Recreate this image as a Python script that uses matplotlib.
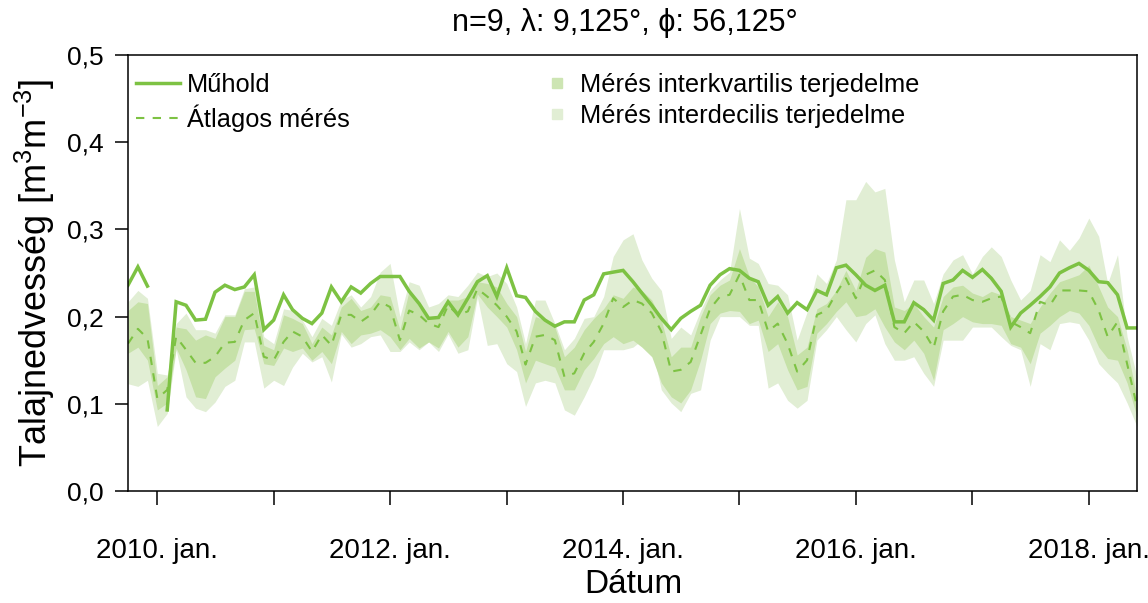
import numpy as np
import pandas as pd
import matplotlib
matplotlib.use('Agg')
import matplotlib.pyplot as plt
from matplotlib.lines import Line2D

plt.rcParams['font.family'] = ['Liberation Sans', 'DejaVu Sans']
plt.rcParams['mathtext.fontset'] = 'custom'
plt.rcParams['mathtext.rm'] = 'Liberation Sans'
plt.rcParams['mathtext.it'] = 'Liberation Sans'

# monthly values, 2009 Oct .. 2018 Jun
dates = pd.date_range('2009-10-01', '2018-06-01', freq='MS')
nan = np.nan

satellite = [
    0.236, 0.257, 0.235, nan, 0.093, 0.217, 0.213, 0.196, 0.197, 0.228,
    0.236, 0.231, 0.234, 0.248, 0.185, 0.196, 0.225, 0.208, 0.198, 0.192,
    0.204, 0.234, 0.217, 0.234, 0.227, 0.238, 0.246, 0.246, 0.246, 0.229,
    0.215, 0.198, 0.199, 0.217, 0.202, 0.221, 0.240, 0.247, 0.223, 0.256,
    0.224, 0.222, 0.206, 0.196, 0.189, 0.194, 0.194, 0.219, 0.225, 0.249,
    0.251, 0.253, 0.240, 0.227, 0.213, 0.198, 0.185, 0.198, 0.206, 0.213,
    0.236, 0.248, 0.255, 0.253, 0.244, 0.240, 0.213, 0.223, 0.204, 0.216,
    0.208, 0.230, 0.225, 0.256, 0.259, 0.248, 0.236, 0.230, 0.236, 0.194,
    0.194, 0.216, 0.208, 0.196, 0.238, 0.242, 0.253, 0.245, 0.254, 0.244,
    0.229, 0.188, 0.204, 0.213, 0.223, 0.234, 0.250, 0.256, 0.261, 0.253,
    0.240, 0.239, 0.225, 0.187, 0.187]

mean_meas = [
    0.169, 0.186, 0.175, 0.106, 0.116, 0.177, 0.162, 0.147, 0.147, 0.154,
    0.170, 0.171, 0.196, 0.204, 0.154, 0.150, 0.171, 0.183, 0.177, 0.160,
    0.179, 0.167, 0.202, 0.202, 0.194, 0.202, 0.217, 0.211, 0.173, 0.207,
    0.202, 0.192, 0.188, 0.213, 0.202, 0.206, 0.232, 0.223, 0.213, 0.200,
    0.183, 0.145, 0.177, 0.179, 0.173, 0.131, 0.135, 0.158, 0.171, 0.192,
    0.221, 0.211, 0.219, 0.215, 0.204, 0.183, 0.137, 0.139, 0.148, 0.179,
    0.209, 0.223, 0.225, 0.248, 0.219, 0.219, 0.183, 0.192, 0.169, 0.137,
    0.150, 0.202, 0.207, 0.227, 0.244, 0.221, 0.248, 0.253, 0.242, 0.188,
    0.181, 0.194, 0.183, 0.164, 0.206, 0.223, 0.225, 0.219, 0.217, 0.221,
    0.223, 0.194, 0.188, 0.181, 0.217, 0.213, 0.230, 0.230, 0.230, 0.229,
    0.207, 0.177, 0.194, 0.146, 0.097]

q75 = [
    0.207, 0.217, 0.215, 0.121, 0.131, 0.188, 0.186, 0.173, 0.179, 0.175,
    0.200, 0.200, 0.229, 0.229, 0.167, 0.162, 0.202, 0.198, 0.192, 0.169,
    0.188, 0.179, 0.211, 0.221, 0.207, 0.211, 0.225, 0.223, 0.185, 0.230,
    0.211, 0.200, 0.200, 0.219, 0.219, 0.223, 0.240, 0.238, 0.234, 0.215,
    0.200, 0.160, 0.200, 0.196, 0.188, 0.154, 0.165, 0.185, 0.198, 0.209,
    0.225, 0.221, 0.234, 0.230, 0.219, 0.196, 0.154, 0.165, 0.165, 0.200,
    0.225, 0.236, 0.242, 0.278, 0.246, 0.234, 0.200, 0.217, 0.200, 0.156,
    0.165, 0.209, 0.215, 0.230, 0.253, 0.230, 0.268, 0.278, 0.274, 0.211,
    0.207, 0.215, 0.200, 0.188, 0.223, 0.234, 0.236, 0.227, 0.223, 0.229,
    0.225, 0.200, 0.196, 0.192, 0.211, 0.227, 0.240, 0.244, 0.248, 0.259,
    0.234, 0.211, 0.200, 0.162, 0.108]

q25 = [
    0.158, 0.165, 0.150, 0.093, 0.101, 0.164, 0.139, 0.108, 0.106, 0.131,
    0.141, 0.150, 0.185, 0.186, 0.146, 0.144, 0.164, 0.160, 0.164, 0.150,
    0.160, 0.146, 0.183, 0.169, 0.179, 0.181, 0.185, 0.177, 0.162, 0.175,
    0.164, 0.171, 0.164, 0.183, 0.165, 0.177, 0.226, 0.211, 0.200, 0.188,
    0.162, 0.124, 0.150, 0.146, 0.142, 0.116, 0.116, 0.139, 0.152, 0.169,
    0.177, 0.169, 0.173, 0.165, 0.154, 0.124, 0.108, 0.101, 0.116, 0.150,
    0.192, 0.204, 0.207, 0.206, 0.192, 0.196, 0.160, 0.169, 0.139, 0.116,
    0.120, 0.181, 0.192, 0.206, 0.217, 0.200, 0.202, 0.209, 0.188, 0.171,
    0.162, 0.173, 0.158, 0.127, 0.185, 0.192, 0.200, 0.194, 0.192, 0.192,
    0.190, 0.169, 0.165, 0.146, 0.181, 0.190, 0.200, 0.207, 0.204, 0.190,
    0.165, 0.152, 0.150, 0.124, 0.085]

q90 = [
    0.217, 0.230, 0.221, 0.135, 0.133, 0.192, 0.204, 0.185, 0.185, 0.181,
    0.202, 0.202, 0.232, 0.234, 0.177, 0.169, 0.209, 0.207, 0.196, 0.177,
    0.198, 0.190, 0.219, 0.225, 0.211, 0.223, 0.251, 0.261, 0.200, 0.240,
    0.236, 0.211, 0.215, 0.225, 0.223, 0.236, 0.251, 0.246, 0.250, 0.238,
    0.211, 0.169, 0.219, 0.219, 0.192, 0.162, 0.175, 0.198, 0.200, 0.223,
    0.269, 0.288, 0.295, 0.265, 0.244, 0.230, 0.175, 0.188, 0.179, 0.207,
    0.230, 0.242, 0.251, 0.324, 0.267, 0.261, 0.238, 0.236, 0.225, 0.173,
    0.205, 0.249, 0.238, 0.265, 0.334, 0.334, 0.355, 0.343, 0.347, 0.265,
    0.217, 0.242, 0.242, 0.215, 0.249, 0.265, 0.271, 0.249, 0.269, 0.280,
    0.269, 0.242, 0.219, 0.230, 0.271, 0.263, 0.288, 0.276, 0.290, 0.313,
    0.292, 0.238, 0.271, 0.177, 0.131]

q10 = [
    0.123, 0.120, 0.127, 0.074, 0.089, 0.162, 0.108, 0.095, 0.091, 0.102,
    0.120, 0.127, 0.171, 0.171, 0.118, 0.127, 0.121, 0.142, 0.158, 0.148,
    0.154, 0.125, 0.180, 0.165, 0.169, 0.177, 0.179, 0.160, 0.160, 0.171,
    0.162, 0.171, 0.160, 0.180, 0.158, 0.162, 0.222, 0.167, 0.169, 0.146,
    0.137, 0.097, 0.124, 0.127, 0.124, 0.093, 0.087, 0.108, 0.131, 0.162,
    0.162, 0.162, 0.165, 0.173, 0.165, 0.116, 0.101, 0.091, 0.112, 0.116,
    0.173, 0.200, 0.200, 0.200, 0.190, 0.190, 0.118, 0.124, 0.104, 0.095,
    0.104, 0.173, 0.185, 0.200, 0.185, 0.171, 0.192, 0.202, 0.169, 0.150,
    0.150, 0.154, 0.135, 0.120, 0.173, 0.173, 0.173, 0.188, 0.188, 0.188,
    0.177, 0.167, 0.162, 0.120, 0.169, 0.162, 0.192, 0.194, 0.192, 0.173,
    0.146, 0.135, 0.124, 0.101, 0.074]

yticks = [0.0, 0.1, 0.2, 0.3, 0.4, 0.5]
ytick_labels = ['0,0', '0,1', '0,2', '0,3', '0,4', '0,5']
years = list(range(2010, 2019))

green = '#7DC243'
iqr_col = '#C6E1A8'
idr_col = '#E1EED4'

fig = plt.figure(figsize=(11.48, 6.03), dpi=100)
ax = fig.add_axes([0.1115, 0.1857, 0.8789, 0.7231])

ax.fill_between(dates, q10, q90, color=idr_col, lw=0)
ax.fill_between(dates, q25, q75, color=iqr_col, lw=0)
ax.plot(dates, mean_meas, color=green, lw=1.5, dashes=(4, 4))
ax.plot(dates, satellite, color=green, lw=2.5, solid_joinstyle='miter')

ax.set_xlim(dates[0], dates[-1])
ax.set_ylim(0, 0.5)

ax.set_yticks(yticks)
ax.set_yticklabels(ytick_labels)
tick_dates = [pd.Timestamp(f'{y}-01-01') for y in years]
ax.set_xticks(tick_dates)
ax.set_xticklabels([f'{y}. jan.' if y % 2 == 0 else '' for y in years])

ax.tick_params(axis='y', length=9.5, width=1.1, pad=8, labelsize=19)
ax.tick_params(axis='x', length=10, width=1.1, pad=24, labelsize=20)
for s in ax.spines.values():
    s.set_linewidth(1.1)

fig.text(0.5444, 1 - 23 / 603, 'n=9, \u03bb: 9,125\u00b0, \u03d5: 56,125\u00b0',
         ha='center', va='center', fontsize=22)
fig.text(0.0305, 0.547, 'Talajnedvesség [m$^{3}$m$^{-3}$]', rotation=90,
         ha='center', va='center', fontsize=26)
fig.text(0.552, 0.030, 'Dátum', ha='center', va='center', fontsize=24)

h1 = [Line2D([], [], color=green, lw=2.5),
      Line2D([], [], color=green, lw=1.5, dashes=(4, 4))]
leg1 = ax.legend(h1, ['Műhold', 'Átlagos mérés'], loc='upper left',
                 bbox_to_anchor=(0.008, 0.958), frameon=False, fontsize=18.3,
                 borderpad=0, borderaxespad=0, handlelength=1.73,
                 handletextpad=0.28, labelspacing=0.27)
ax.add_artist(leg1)
h2 = [Line2D([], [], color='#CDE5B3', marker='s', ls='none', markersize=7),
      Line2D([], [], color=idr_col, marker='s', ls='none', markersize=7)]
ax.legend(h2, ['Mérés interkvartilis terjedelme', 'Mérés interdecilis terjedelme'],
          loc='upper left', bbox_to_anchor=(0.4126, 0.958), frameon=False,
          fontsize=18.3, borderpad=0, borderaxespad=0, handlelength=1.0,
          handletextpad=0.4, labelspacing=0.27)

fig.savefig('out.png', dpi=100)
